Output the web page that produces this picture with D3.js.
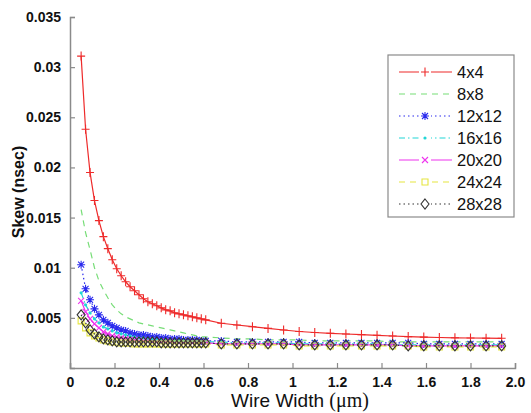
<!DOCTYPE html>
<html>
<head>
<meta charset="utf-8">
<script src="https://cdn.jsdelivr.net/npm/d3@7"></script>
<style>
  body { margin: 0; background: #fff; }
  svg { display: block; }
</style>
</head>
<body>
<div id="chart"></div>
<script>
(function(){
    var WIDTH  = 531,
        HEIGHT = 413,
        LEFT   = 70,
        RIGHT  = 515,
        TOP    = 17,
        BOTTOM = 368;

    // wire widths (um)
    var widths = [0.05,0.07,0.09,0.11,0.13,0.15,0.17,0.19,0.21,0.23,0.25,0.27,0.29,0.31,0.33,0.35,0.37,0.39,0.41,0.43,0.45,0.47,0.49,0.51,0.53,0.55,0.57,0.59,0.61,
                  0.68,0.75,0.82,0.89,0.96,1.03,1.10,1.17,1.24,1.31,1.38,1.45,1.52,1.59,1.66,1.73,1.80,1.87,1.94];

    var gridNames = ['4x4','8x8','12x12','16x16','20x20','24x24','28x28'];

    // skew (nsec)
    var skew4  = [0.0311,0.0238,0.0195,0.0167,0.0147,0.0131,0.0119,0.0108,0.0099,0.0092,0.0086,0.0081,0.0077,0.0073,0.0069,0.0066,0.0064,0.0062,0.0060,0.0058,0.0057,0.0055,0.0054,0.0053,0.0052,0.0051,0.0050,0.0049,0.0048,
                  0.00446,0.00429,0.00412,0.00395,0.00379,0.00364,0.00354,0.00346,0.00339,0.00333,0.00326,0.00319,0.00313,0.00308,0.00304,0.00301,0.00299,0.00297,0.00296];
    var skew8  = [0.0158,0.0135,0.0118,0.0100,0.0087,0.0078,0.0070,0.0063,0.0058,0.0054,0.0051,0.0049,0.0047,0.0045,0.0044,0.0043,0.0042,0.0041,0.0040,0.0039,0.0038,0.0037,0.0036,0.0035,0.0034,0.0033,0.0032,0.0031,0.0031,
                  0.0030,0.0029,0.0029,0.0028,0.0028,0.0028,0.0027,0.0027,0.0027,0.0027,0.0027,0.0026,0.0026,0.0026,0.0026,0.0026,0.0026,0.0026,0.0026];
    var skew12 = [0.0103,0.0079,0.0068,0.0059,0.0053,0.0048,0.0045,0.0042,0.0040,0.0038,0.0037,0.0035,0.0034,0.0033,0.0033,0.0032,0.0031,0.0031,0.0030,0.0030,0.0029,0.0029,0.0029,0.0028,0.0028,0.0028,0.0028,0.0027,0.0027,
                  0.0027,0.0026,0.0026,0.0026,0.0026,0.0026,0.0025,0.0025,0.0025,0.0025,0.0025,0.0025,0.0025,0.0024,0.0024,0.0024,0.0024,0.0024,0.0024];
    var skew16 = [0.0075,0.0063,0.0055,0.0049,0.0045,0.0041,0.0039,0.0037,0.0035,0.0034,0.0033,0.0032,0.0031,0.0030,0.0030,0.0029,0.0029,0.0028,0.0028,0.0028,0.0027,0.0027,0.0027,0.0027,0.0026,0.0026,0.0026,0.0026,0.0026,
                  0.0026,0.0025,0.0025,0.0025,0.0025,0.0024,0.0024,0.0024,0.0024,0.0024,0.0024,0.0023,0.0023,0.0023,0.0023,0.0023,0.0023,0.0023,0.0023];
    var skew20 = [0.0067,0.0056,0.0049,0.0044,0.0040,0.0036,0.0034,0.0032,0.0031,0.0030,0.0029,0.0028,0.0028,0.0027,0.0027,0.0027,0.0026,0.0026,0.0026,0.0026,0.0026,0.0025,0.0025,0.0025,0.0025,0.0025,0.0025,0.0025,0.0025,
                  0.0024,0.0024,0.0024,0.0024,0.0024,0.0023,0.0023,0.0023,0.0023,0.0023,0.0023,0.0023,0.0022,0.0022,0.0022,0.0022,0.0022,0.0022,0.0022];
    var skew24 = [0.0047,0.0040,0.0035,0.0032,0.0030,0.0028,0.0027,0.0026,0.0026,0.0025,0.0025,0.0025,0.0024,0.0024,0.0024,0.0024,0.0024,0.0024,0.0024,0.0024,0.0024,0.0024,0.0024,0.0024,0.0024,0.0024,0.0024,0.0024,0.0024,
                  0.0023,0.0023,0.0023,0.0023,0.0023,0.0022,0.0022,0.0022,0.0022,0.0022,0.0022,0.0022,0.0022,0.0021,0.0021,0.0021,0.0021,0.0021,0.0021];
    var skew28 = [0.0053,0.0045,0.0038,0.0034,0.0031,0.0029,0.0028,0.0027,0.0026,0.0026,0.0026,0.0026,0.0026,0.0026,0.0026,0.0026,0.0026,0.0026,0.0025,0.0025,0.0025,0.0025,0.0025,0.0025,0.0025,0.0025,0.0025,0.0025,0.0025,
                  0.0024,0.0024,0.0024,0.0024,0.0024,0.0023,0.0023,0.0023,0.0023,0.0023,0.0023,0.0023,0.0022,0.0022,0.0022,0.0022,0.0022,0.0022,0.0022];

    var xTicks = [0,0.2,0.4,0.6,0.8,1,1.2,1.4,1.6,1.8,2];
    var xTickLabels = ['0','0.2','0.4','0.6','0.8','1','1.2','1.4','1.6','1.8','2.0'];
    var yTicks = [0.005,0.01,0.015,0.02,0.025,0.03,0.035];
    var yTickLabels = ['0.005','0.01','0.015','0.02','0.025','0.03','0.035'];

    var styles = [
        {color:'#ee2a2a', dash:null,        marker:'plus'},
        {color:'#77dd77', dash:'6,5',       marker:'none'},
        {color:'#2a2aee', dash:'1.5,3',     marker:'star'},
        {color:'#22d6d6', dash:'6,3,1.5,3', marker:'dot'},
        {color:'#ee33ee', dash:null,        marker:'cross'},
        {color:'#e6e640', dash:'6,5',       marker:'square'},
        {color:'#333333', dash:'1.5,3',     marker:'diamond'}
    ];

    var seriesValues = [skew4, skew8, skew12, skew16, skew20, skew24, skew28];
    var series = gridNames.map(function(n, i){
        return { name: n, style: styles[i],
                 points: widths.map(function(w, j){ return {x: w, y: seriesValues[i][j]}; }) };
    });

    var x = d3.scaleLinear().domain([0, 2]).range([LEFT, RIGHT]);
    var y = d3.scaleLinear().domain([0, 0.035]).range([BOTTOM, TOP]);

    var svg = d3.select('#chart').append('svg')
        .attr('width', WIDTH)
        .attr('height', HEIGHT);

    svg.append('rect').attr('width', WIDTH).attr('height', HEIGHT).attr('fill', '#fff');

    // axes (left + bottom only, ticks pointing inward)
    var xAxis = d3.axisBottom(x).tickValues(xTicks)
        .tickSize(-5).tickPadding(9)
        .tickFormat(function(d, i){ return xTickLabels[i]; });
    var yAxis = d3.axisLeft(y).tickValues(yTicks)
        .tickSize(-5).tickPadding(9)
        .tickFormat(function(d, i){ return yTickLabels[i]; });

    var gx = svg.append('g').attr('transform', 'translate(0,' + BOTTOM + ')').call(xAxis);
    var gy = svg.append('g').attr('transform', 'translate(' + LEFT + ',0)').call(yAxis);

    [gx, gy].forEach(function(g){
        g.select('.domain').attr('stroke', '#8a8a8a').attr('stroke-width', 1.5);
        g.selectAll('.tick line').attr('stroke', '#8a8a8a').attr('stroke-width', 1.2);
        g.selectAll('.tick text')
            .attr('fill', '#111')
            .style('font-family', 'Liberation Sans, Arial, sans-serif')
            .style('font-size', '14px')
            .style('font-weight', 'bold');
    });

    // axis titles
    var xt = svg.append('text')
        .attr('x', 300).attr('y', 407)
        .attr('text-anchor', 'middle')
        .style('font-family', 'Liberation Sans, Arial, sans-serif')
        .style('font-size', '19px')
        .attr('fill', '#111')
        .text('Wire Width ');
    xt.append('tspan')
        .style('font-family', 'Liberation Serif, Times New Roman, serif')
        .style('font-size', '20px')
        .text('(\u03bcm)');

    svg.append('text')
        .attr('transform', 'translate(24,192) rotate(-90)')
        .attr('text-anchor', 'middle')
        .style('font-family', 'Liberation Sans, Arial, sans-serif')
        .style('font-size', '16px')
        .style('font-weight', 'bold')
        .attr('fill', '#111')
        .text('Skew (nsec)');

    function markerPath(type){
        switch(type){
            case 'plus':    return 'M-4,0H4M0,-4.5V4.5';
            case 'star':    return 'M-4,0H4M0,-4V4M-3,-3L3,3M-3,3L3,-3';
            case 'cross':   return 'M-3,-3L3,3M-3,3L3,-3';
            case 'square':  return 'M-3,-3H3V3H-3Z';
            case 'diamond': return 'M0,-5L4,0L0,5L-4,0Z';
            default:        return null;
        }
    }

    function drawMarker(g, type, color){
        if(type === 'dot'){
            g.append('circle').attr('r', 1.6).attr('fill', color);
        } else if(type !== 'none'){
            g.append('path').attr('d', markerPath(type))
                .attr('fill', 'none').attr('stroke', color).attr('stroke-width', 1.1);
        }
    }

    var line = d3.line().x(function(d){ return x(d.x); }).y(function(d){ return y(d.y); });

    var plot = svg.append('g').attr('class', 'series');
    series.forEach(function(s){
        var g = plot.append('g');
        g.append('path')
            .datum(s.points)
            .attr('d', line)
            .attr('fill', 'none')
            .attr('stroke', s.style.color)
            .attr('stroke-width', 1.2)
            .attr('stroke-dasharray', s.style.dash);

        if(s.style.marker !== 'none'){
            g.selectAll('g.m')
                .data(s.points)
                .enter().append('g')
                .attr('class', 'm')
                .attr('transform', function(d){ return 'translate(' + x(d.x) + ',' + y(d.y) + ')'; })
                .each(function(){ drawMarker(d3.select(this), s.style.marker, s.style.color); });
        }
    });

    // legend
    var LEG_X = 388, LEG_Y = 55, LEG_W = 126, LEG_H = 162, ROW = 22;
    var legend = svg.append('g');
    legend.append('rect')
        .attr('x', LEG_X).attr('y', LEG_Y)
        .attr('width', LEG_W).attr('height', LEG_H)
        .attr('fill', '#fff').attr('stroke', '#8a8a8a').attr('stroke-width', 1.2);

    series.forEach(function(s, i){
        var cy = LEG_Y + 17 + i * ROW;
        var row = legend.append('g');
        row.append('line')
            .attr('x1', LEG_X + 11).attr('x2', LEG_X + 64)
            .attr('y1', cy).attr('y2', cy)
            .attr('stroke', s.style.color).attr('stroke-width', 1.2)
            .attr('stroke-dasharray', s.style.dash);
        var m = row.append('g').attr('transform', 'translate(' + (LEG_X + 37) + ',' + cy + ')');
        if(s.style.marker !== 'none'){
            m.append('rect').attr('x', -6).attr('y', -6).attr('width', 12).attr('height', 12).attr('fill', '#fff');
        }
        drawMarker(m, s.style.marker, s.style.color);
        row.append('text')
            .attr('x', LEG_X + 69).attr('y', cy + 6)
            .style('font-family', 'Liberation Sans, Arial, sans-serif')
            .style('font-size', '16.5px')
            .attr('fill', '#111')
            .text(s.name);
    });
})();
</script>
</body>
</html>
